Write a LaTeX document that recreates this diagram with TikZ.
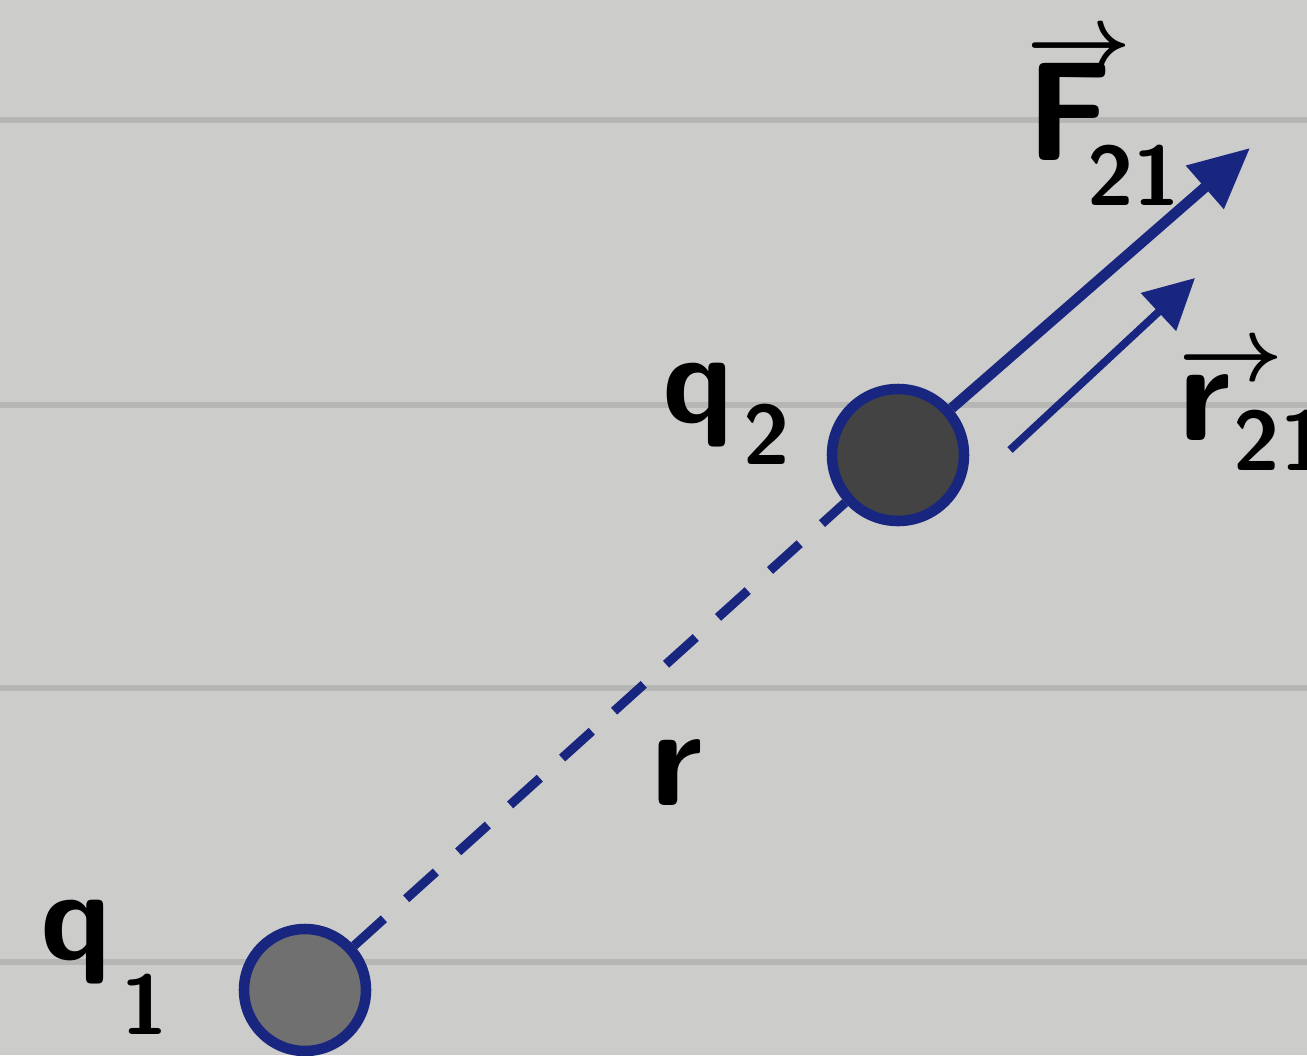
\documentclass[tikz,border=0pt]{standalone}
\usepackage{fix-cm}
\usepackage{amsmath}
\usetikzlibrary{arrows.meta,positioning}
\definecolor{ink}{RGB}{24,38,128}
\definecolor{paper}{RGB}{204,204,202}
\definecolor{rulecol}{RGB}{182,182,180}
\definecolor{blob}{RGB}{112,112,112}
\newcommand{\subsz}{\fontsize{24}{28}\selectfont}
% letter, subscript, subscript drop
\newcommand{\chsub}[3]{#1\kern0.08em\raisebox{-#3}{\subsz #2}}
% letter, subscript, arrow lift, subscript kern, subscript drop
\newcommand{\vecsub}[5]{\makebox[0pt][l]{\raisebox{#3}{\fontsize{26}{30}\selectfont$\boldsymbol{\rightarrow}$}}#1\kern#4\raisebox{-#5}{\subsz #2}}

\begin{document}
\begin{tikzpicture}[node distance=4mm, charge/.style={circle,draw=ink,fill=blob,line width=3pt,minimum size=1.22cm,inner sep=0pt}, vecarr/.style={-{Triangle[length=6mm,width=5.5mm]},ink,line width=3pt}, lbl/.style={font=\fontsize{40}{44}\selectfont\sffamily\bfseries,inner sep=0pt,anchor=base west}]
\useasboundingbox (0,0) rectangle (13.07,10.55);
% paper
\fill[paper] (0,0) rectangle (13.07,10.55);
\foreach \y in {0.93,3.67,6.50,9.35}
  \draw[rulecol,line width=1.6pt] (0,\y) -- (13.07,\y);
% charges
\node[charge] (q1) at (3.05,0.65) {};
\node[charge,minimum size=1.32cm,fill=blob!60!black] (q2) at (8.98,6.00) {};
\draw[ink,line width=2.6pt,dash pattern=on 4mm off 3mm] (q1) -- (q2);
% vectors
\coordinate (ftip) at (12.5,9.07);
\coordinate (rtail) at (10.1,6.05);
\coordinate (rtip) at (11.95,7.77);
\draw[vecarr] (q2) -- (ftip);
\draw[vecarr,line width=2.2pt,-{Triangle[length=5mm,width=5mm]}] (rtail) -- (rtip);
% labels
\node[lbl,font=\fontsize{36}{40}\selectfont\sffamily\bfseries] (lq1) at (0.40,0.96) {\chsub{q}{1}{0.75cm}};
\node[lbl,font=\fontsize{36}{40}\selectfont\sffamily\bfseries] (lq2) at (6.62,6.33) {\chsub{q}{2}{0.42cm}};
\node[lbl] (lr) at (6.50,2.50) {r};
\node[lbl] (lF) at (10.26,8.95) {\vecsub{F}{21}{26pt}{-0.18em}{0.45cm}};
\node[lbl] (lr21) at (11.78,6.15) {\vecsub{r}{21}{17pt}{0.02em}{0.30cm}};
\end{tikzpicture}
\end{document}
